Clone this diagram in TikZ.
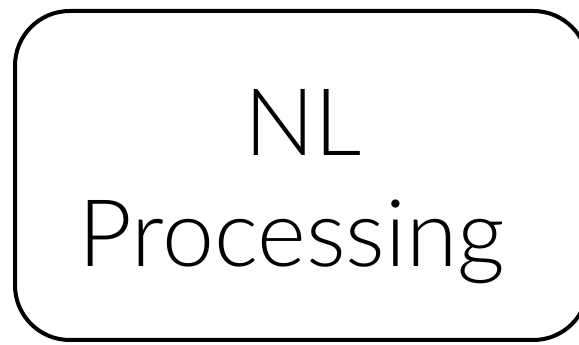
\documentclass[tikz,border=0pt]{standalone}
\usepackage{fontspec}
\setmainfont{Lato}[UprightFont={* Light}]
\begin{document}
\begin{tikzpicture}[x=0.75pt,y=-0.75pt,
  procbox/.style={draw=black, line width=3pt, rounded corners=41pt,
    minimum width=429.75pt, minimum height=246.75pt, inner sep=0pt},
  biglabel/.style={font=\fontsize{70}{84}\selectfont, inner sep=0pt, anchor=base}]
  \useasboundingbox (0,0) rectangle (579,345);
  \clip (0,0) rectangle (579,345);
  % the processing stage box (its right side runs past the page edge)
  \node[procbox] (stage) at (301.5,175.5) {};
  \node[biglabel] (lineone) at (303,156) {NL};
  \node[biglabel] (linetwo) at (292,267) {Processing};
\end{tikzpicture}
\end{document}
